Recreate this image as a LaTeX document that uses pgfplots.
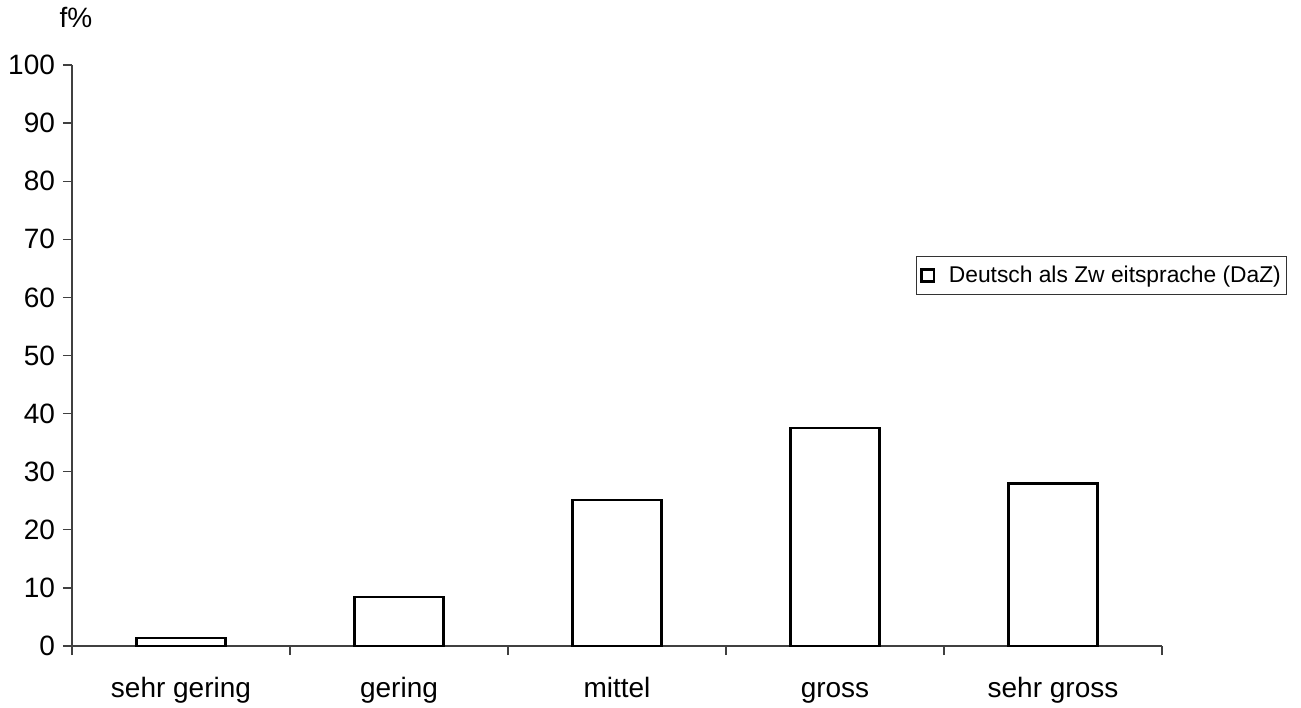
\documentclass[border=0pt]{standalone}
\usepackage{fontspec}
\setmainfont{Liberation Sans}
\usepackage{pgfplots}
\pgfplotsset{compat=1.18}
\begin{document}
\begin{tikzpicture}
  % page = 1301 x 707 px at 0.5pt per px, axis box lower left at (72px, 646px from top)
  \path[use as bounding box] (-36pt,-30.5pt) rectangle (614.5pt,323pt);
  \begin{axis}[
    at={(0pt,0pt)}, anchor=south west,
    scale only axis,
    width=545pt, height=290.5pt,
    ybar, bar width=44.5pt,
    xmin=-0.5, xmax=4.5,
    ymin=0, ymax=100,
    ytick={0,10,...,100},
    xtick={-0.5,0.5,...,4.5},
    x tick label as interval,
    xticklabels={sehr gering,gering,mittel,gross,sehr gross},
    axis x line=bottom, axis y line=left,
    axis line style={-, black!75, line width=0.6pt},
    tick style={black!75, line width=0.6pt},
    tick align=outside,
    major tick length=4.5pt,
    /pgf/number format/assume math mode=true,
    tick label style={font=\fontsize{14}{17}\selectfont},
    xticklabel style={text height=1.6ex, text depth=0.4ex, yshift=-9.5pt},
    yticklabel style={xshift=-0.5pt},
    ylabel={f\%},
    every axis y label/.style={at={(rel axis cs:0,1)}, anchor=base, xshift=2pt, yshift=18.5pt,
      font=\fontsize{14}{16}\selectfont},
    legend style={at={(rel axis cs:0.774,0.671)}, anchor=north west,
      draw=black!80, line width=0.6pt, font=\fontsize{11.4}{13}\selectfont,
      inner xsep=1pt, inner ysep=2.5pt},
    legend image code/.code={
      \path (-1pt,0pt) (11pt,0pt);
      \draw[line width=1.4pt, fill=white] (0pt,-3.1pt) rectangle (6.2pt,3.1pt);},
  ]
    \addplot[draw=black, fill=white, line width=1.3pt] coordinates {
      (0,1.4) (1,8.4) (2,25.1) (3,37.5) (4,28.0)
    };
    \addlegendentry{Deutsch als Zw eitsprache (DaZ)}
  \end{axis}
\end{tikzpicture}
\end{document}
